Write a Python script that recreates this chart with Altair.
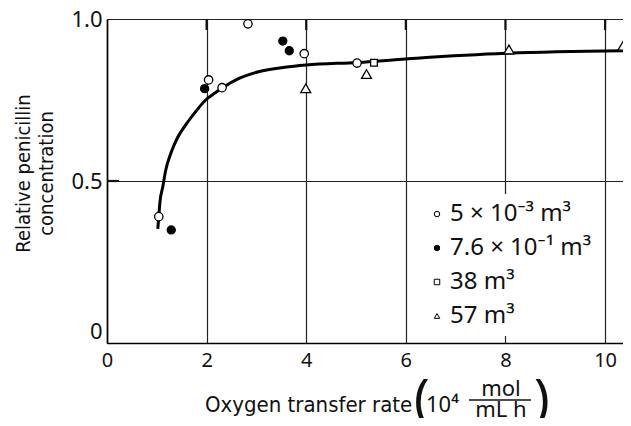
import altair as alt
import pandas as pd

# ---- data ----
series_names = ["5 × 10⁻³ m³", "7.6 × 10⁻¹ m³", "38 m³", "57 m³"]
series_fill = ["white", "black", "white", "white"]
series_stroke = ["black", "black", "black", "black"]
series_shape = ["circle", "circle", "square", "triangle-up"]
series_size = [70, 64, 45, 100]

open_x = [1.04, 2.04, 2.31, 2.83, 3.96, 5.02]
open_y = [0.390, 0.812, 0.788, 0.985, 0.893, 0.864]
filled_x = [1.29, 1.96, 3.53, 3.66]
filled_y = [0.349, 0.785, 0.932, 0.902]
square_x = [5.36]
square_y = [0.865]
tri_x = [3.99, 5.21, 8.07, 10.36]
tri_y = [0.786, 0.830, 0.906, 0.917]

curve_x = [1.02, 1.04, 1.06, 1.12, 1.18, 1.28, 1.41, 1.58, 1.78, 1.98, 2.18,
           2.32, 2.64, 3.04, 3.57, 4.00, 5.03, 6.22, 8.01, 10.40]
curve_y = [0.352, 0.390, 0.431, 0.482, 0.534, 0.585, 0.632, 0.673, 0.714, 0.750, 0.773,
           0.788, 0.816, 0.837, 0.851, 0.858, 0.866, 0.879, 0.894, 0.902]

x_ticks = [0, 2, 4, 6, 8, 10]
y_ticks = [0, 0.5, 1.0]
x_inner_ticks = [2, 4, 6, 8, 10]
y_inner_ticks = [0.5]
x_title_parts = ["Oxygen transfer rate", "(", "10⁴", "mol", "mL h", ")"]
y_title_lines = ["Relative penicillin", "concentration"]

# ---- tables ----
rows = []
for name, xs, ys in zip(series_names, [open_x, filled_x, square_x, tri_x],
                        [open_y, filled_y, square_y, tri_y]):
    for a, b in zip(xs, ys):
        rows.append({"series": name, "x": a, "y": b})
pts = pd.DataFrame(rows)
curve = pd.DataFrame({"x": curve_x, "y": curve_y})

xscale = alt.Scale(domain=[0, 10.36], nice=False, zero=False)
yscale = alt.Scale(domain=[0, 1], nice=False)

x_axis = alt.Axis(values=x_ticks, title=None, grid=True, gridColor="#222", gridWidth=1.2,
                  domainColor="black", domainWidth=1.6, ticks=False,
                  labelFont="Noto Sans", labelFontSize=20, labelColor="#111",
                  labelPadding=7, labelFlush=False, labelOverlap=False)
y_axis = alt.Axis(values=y_ticks, title=y_title_lines, grid=True, gridColor="#222", gridWidth=1.2,
                  domainColor="black", domainWidth=1.6, ticks=False,
                  labelFont="Noto Sans", labelFontSize=22, labelColor="#111",
                  labelPadding=5, labelFlush=False,
                  labelExpr="datum.value == 0 ? '0' : format(datum.value, '.1f')",
                  labelBaseline={"condition": {"test": "datum.value == 0", "value": "bottom"},
                                 "value": "middle"},
                  titleFont="DejaVu Sans Condensed, Noto Sans", titleFontSize=20,
                  titleFontWeight="normal",
                  titleColor="#111", titleAngle=270, titleAlign="center", titleBaseline="top",
                  titleX=-94, titleY=154, titleLineHeight=23)

X = alt.X("x:Q", scale=xscale, axis=x_axis)
Y = alt.Y("y:Q", scale=yscale, axis=y_axis)

line = alt.Chart(curve).mark_line(color="black", strokeWidth=3, interpolate="monotone").encode(
    x=X, y=Y)

# short inward tick marks (drawn from the tick value lists)
top_ticks = alt.Chart(pd.DataFrame({"x": x_inner_ticks})).mark_rule(
    color="#111", strokeWidth=2.2).encode(
    x=alt.X("x:Q", scale=xscale, axis=x_axis), y=alt.value(0), y2=alt.value(11))
left_ticks = alt.Chart(pd.DataFrame({"y": y_inner_ticks})).mark_rule(
    color="#111", strokeWidth=2.2).encode(
    y=alt.Y("y:Q", scale=yscale, axis=y_axis), x=alt.value(0), x2=alt.value(12))

legend = alt.Legend(title=None, orient="none", legendX=310, legendY=175,
                    fillColor="white", padding=8, rowPadding=10,
                    labelFont="Noto Sans", labelFontSize=24, labelColor="#111",
                    symbolSize=30, symbolStrokeColor="black", symbolStrokeWidth=1,
                    labelOffset=1)

fill_enc = alt.Fill("series:N", scale=alt.Scale(domain=series_names, range=series_fill),
                    sort=series_names, legend=legend)
stroke_enc = alt.Stroke("series:N", scale=alt.Scale(domain=series_names, range=series_stroke),
                        sort=series_names, legend=legend)
shape_enc = alt.Shape("series:N", scale=alt.Scale(domain=series_names, range=series_shape),
                      sort=series_names, legend=legend)

point_layers = []
for name, sz in zip(series_names, series_size):
    point_layers.append(
        alt.Chart(pts).transform_filter(alt.datum.series == name)
        .mark_point(filled=True, strokeWidth=1.3, opacity=1, size=sz)
        .encode(x=X, y=Y, fill=fill_enc, stroke=stroke_enc, shape=shape_enc)
    )

def title_text(part, dx, dy, size, align="left", font="Noto Sans"):
    return alt.Chart(pd.DataFrame({"label": [part]})).mark_text(
        align=align, baseline="alphabetic", font=font, fontSize=size, color="#111"
    ).encode(x=alt.value(dx), y=alt.value(dy), text="label:N")

t0 = title_text(x_title_parts[0], 98, 393, 22, font="DejaVu Sans Condensed, Roboto")
t1 = title_text(x_title_parts[1], 307, 398, 52)
t2 = title_text(x_title_parts[2], 319, 393, 22)
t3 = title_text(x_title_parts[3], 394, 377, 22, align="center")
t4 = title_text(x_title_parts[4], 394, 398, 22, align="center")
t5 = title_text(x_title_parts[5], 427, 398, 52)
frac = alt.Chart(pd.DataFrame({"k": [0]})).mark_rule(color="#111", strokeWidth=1.3).encode(
    x=alt.value(362), x2=alt.value(424), y=alt.value(381))

chart = alt.layer(line, top_ticks, left_ticks, *point_layers,
                  t0, t1, t2, t3, t4, t5, frac).properties(
    width=516, height=324,
    autosize=alt.AutoSizeParams(type="none"),
    padding={"left": 99, "top": 11, "right": 0, "bottom": 75},
).configure_view(stroke="transparent")

chart.save("out.html", embed_options={"renderer": "svg", "actions": False})
